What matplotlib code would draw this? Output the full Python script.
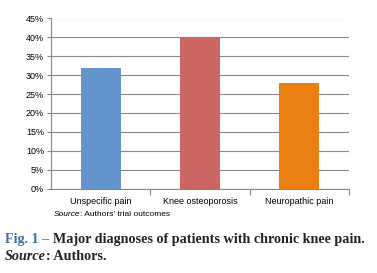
import matplotlib.pyplot as plt

categories = ['Unspecific pain', 'Knee osteoporosis', 'Neuropathic pain']
values = [32, 40, 28]
colors = ['#6395cc', '#cd6662', '#ea8012']
yticks = [0, 5, 10, 15, 20, 25, 30, 35, 40, 45]

fig = plt.figure(figsize=(3.77, 2.73), dpi=100)
ax = fig.add_axes([51 / 377, 1 - 188.5 / 273, 298 / 377, 170 / 273])

x = range(len(categories))
ax.bar(x, values, width=0.4, color=colors, zorder=3)
ax.set_xlim(-0.5, 2.5)
ax.set_ylim(0, 45)
ax.set_yticks(yticks)
ax.set_yticklabels([f'{v}%' for v in yticks], fontsize=6.5, family='Liberation Sans')
ax.set_xticks([0.5, 1.5, 2.5], minor=False)
ax.set_xticklabels([])
ax.set_xticks(list(x), minor=True)
ax.set_xticklabels(categories, minor=True, fontsize=6.5, family='Liberation Sans')
ax.tick_params(axis='x', which='minor', length=0, pad=6)
ax.tick_params(axis='x', which='major', length=4, color='#888888')
ax.tick_params(axis='y', length=3, color='#888888', pad=2)
ax.yaxis.grid(True, color='#888888', linewidth=0.8, zorder=0)
for s in ['top', 'right']:
    ax.spines[s].set_visible(False)
for s in ['left', 'bottom']:
    ax.spines[s].set_color('#888888')
    ax.spines[s].set_linewidth(0.8)


def chain(prev, s, **kw):
    # place text right after the previous one, same baseline
    return ax.annotate(s, xy=(1, 0), xycoords=prev, va='bottom', ha='left', **kw)


t = fig.text(54 / 377, 1 - 218 / 273, 'Source', fontsize=6, family='Liberation Sans',
             style='italic', va='bottom')
chain(t, ': Authors\u2019 trial outcomes', fontsize=6, family='Liberation Sans')

cap = dict(fontsize=10.2, family='Liberation Serif', weight='bold')
t = fig.text(5 / 377, 1 - 246 / 273, 'Fig. 1 \u2013 ', color='#3e6f9e', va='bottom', **cap)
chain(t, 'Major diagnoses of patients with chronic knee pain.', color='#222222', **cap)
t = fig.text(5 / 377, 1 - 263 / 273, 'Source', style='italic', color='#222222', va='bottom', **cap)
chain(t, ': Authors.', color='#222222', **cap)

fig.savefig('out.png', dpi=100)
